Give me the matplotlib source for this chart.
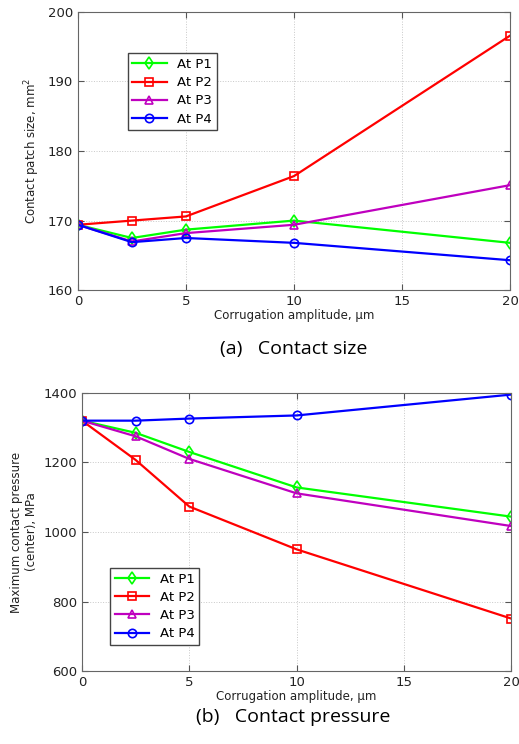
import numpy as np
import matplotlib.pyplot as plt

amp = [0, 2.5, 5, 10, 20]

size_p1 = [169.4, 167.5, 168.7, 170.0, 166.8]
size_p2 = [169.4, 170.0, 170.6, 176.4, 196.6]
size_p3 = [169.4, 167.0, 168.2, 169.4, 175.1]
size_p4 = [169.4, 166.9, 167.5, 166.8, 164.3]

pres_p1 = [1320, 1285, 1230, 1128, 1044]
pres_p2 = [1320, 1207, 1073, 950, 751]
pres_p3 = [1320, 1275, 1210, 1111, 1017]
pres_p4 = [1320, 1320, 1326, 1335, 1395]

labels = ["At P1", "At P2", "At P3", "At P4"]
colors = ["#00ff00", "#ff0000", "#bf00bf", "#0000ff"]
markers = ["d", "s", "^", "o"]

fig = plt.figure(figsize=(5.19, 7.44), dpi=100)
ax1 = fig.add_axes([0.150, 0.610, 0.833, 0.374])
ax2 = fig.add_axes([0.158, 0.098, 0.827, 0.374])


def style(ax):
    ax.set_xlim(0, 20)
    ax.set_xticks([0, 5, 10, 15, 20])
    ax.grid(True, linestyle=':', color='#c8c8c8', linewidth=0.7)
    ax.tick_params(direction='in', top=True, right=True, labelsize=9.5,
                   color='#555555', length=4, labelcolor='#222222')
    for s in ax.spines.values():
        s.set_color('#666666')
    ax.set_xlabel("Corrugation amplitude, μm", fontsize=8.5, labelpad=1,
                  color='#222222')


for ys, lab, c, m in zip([size_p1, size_p2, size_p3, size_p4], labels, colors, markers):
    ax1.plot(amp, ys, color=c, marker=m, markersize=6, markerfacecolor='none',
             markeredgewidth=1.2, linewidth=1.6, label=lab)
style(ax1)
ax1.set_ylim(160, 200)
ax1.set_yticks([160, 170, 180, 190, 200])
ax1.set_ylabel("Contact patch size, mm$^2$", fontsize=8.5, color='#222222')
ax1.legend(loc='upper left', bbox_to_anchor=(0.1, 0.875), fontsize=9.5,
           fancybox=False, edgecolor='#444444', framealpha=1,
           handlelength=2.6, borderpad=0.35, labelspacing=0.4)

for ys, lab, c, m in zip([pres_p1, pres_p2, pres_p3, pres_p4], labels, colors, markers):
    ax2.plot(amp, ys, color=c, marker=m, markersize=6, markerfacecolor='none',
             markeredgewidth=1.2, linewidth=1.6, label=lab)
style(ax2)
ax2.set_ylim(600, 1400)
ax2.set_yticks([600, 800, 1000, 1200, 1400])
ax2.set_ylabel("Maximum contact pressure\n(center), MPa", fontsize=8.5,
               color='#222222')
ax2.legend(loc='lower left', bbox_to_anchor=(0.05, 0.07), fontsize=9.5,
           fancybox=False, edgecolor='#444444', framealpha=1,
           handlelength=2.6, borderpad=0.35, labelspacing=0.4)

fig.text(0.565, 0.531, "(a)   Contact size", ha='center', va='center',
         fontsize=14, family='Open Sans')
fig.text(0.565, 0.036, "(b)   Contact pressure", ha='center', va='center',
         fontsize=14, family='Open Sans')

fig.savefig('out.png', dpi=100)
